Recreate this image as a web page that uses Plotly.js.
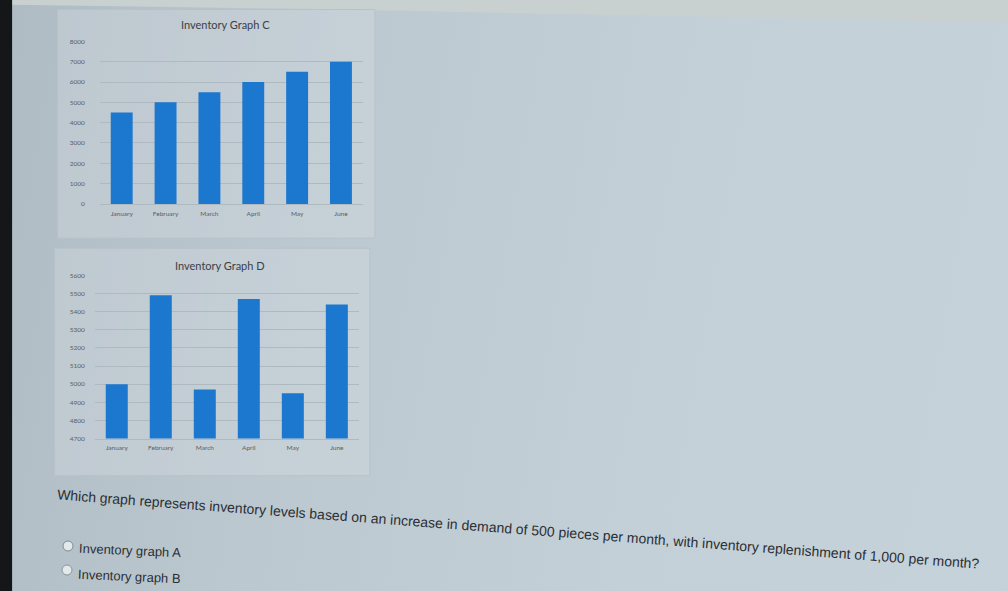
<!DOCTYPE html>
<html>
<head>
<meta charset="utf-8">
<script src="https://cdn.plot.ly/plotly-3.0.1.min.js"></script>
<style>
  html, body { margin: 0; padding: 0; }
  body {
    width: 1008px; height: 591px; overflow: hidden;
    background: linear-gradient(100deg, #aebbc3 0%, #bcc8d0 30%, #c4d0d8 65%, #c6d2da 100%);
  }
  #chart { width: 1008px; height: 591px; }
</style>
</head>
<body>
<div id="chart"></div>
<script>
// months on both graphs
const months = ["January", "February", "March", "April", "May", "June"];

// Inventory Graph C
const graphC = [4500, 5000, 5500, 6000, 6500, 7000];
const ticksC = [0, 1000, 2000, 3000, 4000, 5000, 6000, 7000, 8000];

// Inventory Graph D
const graphD = [5000, 5490, 4970, 5470, 4950, 5440];
const ticksD = [4700, 4800, 4900, 5000, 5100, 5200, 5300, 5400, 5500, 5600];

const question = "Which graph represents inventory levels based on an increase in demand of 500 pieces per month, with inventory replenishment of 1,000 per month?";
const options = ["Inventory graph A", "Inventory graph B"];

const barColor = "#1c78cf";
const gridColor = "#aeb9c0";
const tickFont = { family: "Lato, sans-serif", size: 6.5, color: "#575f66" };
const textFont = { family: "Liberation Sans, Arial, sans-serif", size: 14, color: "#2a2f34" };
const optionFont = { family: "Liberation Sans, Arial, sans-serif", size: 13, color: "#2a2f34" };

const traces = [
  { type: "bar", x: months, y: graphC, xaxis: "x", yaxis: "y",
    marker: { color: barColor }, width: 0.5, hoverinfo: "none" },
  { type: "bar", x: months, y: graphD, xaxis: "x2", yaxis: "y2",
    marker: { color: barColor }, width: 0.5, hoverinfo: "none" }
];

function yAxis(ticks, domain) {
  return {
    domain: domain, range: [ticks[0], ticks[ticks.length - 1]],
    tickvals: ticks, ticktext: ticks.map(String),
    showgrid: true, gridcolor: gridColor, gridwidth: 1,
    zeroline: false, showline: false, ticks: "",
    tickfont: tickFont, ticklabelstandoff: 14
  };
}
function xAxis(domain, anchor) {
  return {
    domain: domain, anchor: anchor, showgrid: false, zeroline: false,
    showline: true, linecolor: gridColor, ticks: "", tickfont: tickFont,
    tickangle: 0, ticklabelstandoff: 3
  };
}

// centred text helper, positions in pixels of the 1008x591 picture
function label(text, px, py, font, angle) {
  return { text: text, xref: "paper", yref: "paper", x: px / 1008, y: 1 - py / 591,
    xanchor: "center", yanchor: "middle", showarrow: false,
    textangle: angle || 0, font: font };
}

const titleFont = { family: "Lato, sans-serif", size: 11, color: "#3b4146" };

const layout = {
  width: 1008, height: 591,
  margin: { l: 0, r: 0, t: 0, b: 0 },
  paper_bgcolor: "rgba(0,0,0,0)", plot_bgcolor: "rgba(0,0,0,0)",
  showlegend: false, bargap: 0.5,
  xaxis: xAxis([0.099, 0.36], "y"),
  yaxis: yAxis(ticksC, [0.655, 0.93]),
  xaxis2: xAxis([0.094, 0.356], "y2"),
  yaxis2: yAxis(ticksD, [0.258, 0.534]),
  shapes: [
    // dark screen edge on the left
    { type: "rect", xref: "paper", yref: "paper", x0: 0, x1: 0.012, y0: 0, y1: 1,
      fillcolor: "#141617", line: { width: 0 }, layer: "above" },
    // light strip along the top of the photo
    { type: "path", xref: "paper", yref: "paper",
      path: "M 0.012 1 L 1 1 L 1 0.962 L 0.6 0.975 L 0.3 0.985 L 0.012 0.992 Z",
      fillcolor: "#c9d0d0", line: { width: 0 }, layer: "below" },
    // chart boxes
    { type: "rect", xref: "paper", yref: "paper", x0: 0.057, x1: 0.372, y0: 0.597, y1: 0.984,
      fillcolor: "rgba(214,222,227,0.35)", line: { color: "#b7c1c7", width: 1 }, layer: "below" },
    { type: "rect", xref: "paper", yref: "paper", x0: 0.054, x1: 0.367, y0: 0.195, y1: 0.58,
      fillcolor: "rgba(214,222,227,0.35)", line: { color: "#b7c1c7", width: 1 }, layer: "below" },
    // radio buttons
    { type: "circle", xref: "paper", yref: "paper",
      x0: 63 / 1008, x1: 73 / 1008, y0: 1 - 551 / 591, y1: 1 - 541 / 591,
      fillcolor: "#e3e8eb", line: { color: "#7f8a91", width: 1 } },
    { type: "circle", xref: "paper", yref: "paper",
      x0: 62 / 1008, x1: 72 / 1008, y0: 1 - 575 / 591, y1: 1 - 565 / 591,
      fillcolor: "#e3e8eb", line: { color: "#8a949a", width: 1 } }
  ],
  annotations: [
    label("Inventory Graph C", 225, 24, titleFont),
    label("Inventory Graph D", 220, 265, titleFont),
    label(question, 518, 529, textFont, 4.3),
    label(options[0], 130, 550, optionFont, 2.5),
    label(options[1], 129, 576, optionFont, 2.5)
  ]
};

Plotly.newPlot("chart", traces, layout, { staticPlot: true, displayModeBar: false });
</script>
</body>
</html>
